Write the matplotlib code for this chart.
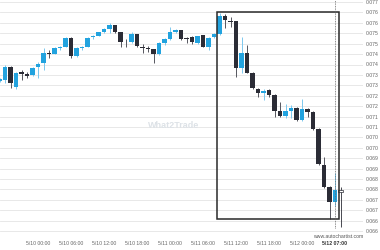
import matplotlib
matplotlib.use('Agg')
import matplotlib.pyplot as plt
import numpy as np

# hourly candles, hour 0 = 5/10 00:00
hours = np.arange(-7, 56)
opens = [0.07321, 0.07326, 0.07388, 0.07292, 0.07366, 0.07354, 0.07350, 0.07388, 0.07407, 0.07455,
         0.07452, 0.07479, 0.07484, 0.07527, 0.07441, 0.07477, 0.07484, 0.07532, 0.07537, 0.07556,
         0.07570, 0.07590, 0.07556, 0.07510, 0.07508, 0.07546, 0.07486, 0.07479, 0.07474, 0.07450,
         0.07503, 0.07522, 0.07556, 0.07566, 0.07527, 0.07532, 0.07503, 0.07542, 0.07484, 0.07532,
         0.07546, 0.07633, 0.07609, 0.07609, 0.07383, 0.07455, 0.07359, 0.07282, 0.07263, 0.07278,
         0.07254, 0.07177, 0.07153, 0.07177, 0.07191, 0.07134, 0.07186, 0.07172, 0.07090, 0.06918,
         0.06812, 0.06740, 0.06798]
highs = [0.07335, 0.07398, 0.07393, 0.07364, 0.07374, 0.07364, 0.07388, 0.07412, 0.07479, 0.07470,
         0.07484, 0.07490, 0.07530, 0.07530, 0.07482, 0.07489, 0.07532, 0.07542, 0.07558, 0.07575,
         0.07599, 0.07592, 0.07558, 0.07522, 0.07556, 0.07548, 0.07498, 0.07489, 0.07476, 0.07506,
         0.07527, 0.07580, 0.07570, 0.07568, 0.07532, 0.07537, 0.07539, 0.07544, 0.07532, 0.07551,
         0.07647, 0.07642, 0.07628, 0.07611, 0.07532, 0.07494, 0.07362, 0.07287, 0.07282, 0.07282,
         0.07258, 0.07220, 0.07210, 0.07206, 0.07194, 0.07234, 0.07191, 0.07177, 0.07093, 0.06956,
         0.06817, 0.06879, 0.06812]
lows = [0.07316, 0.07311, 0.07287, 0.07282, 0.07326, 0.07335, 0.07345, 0.07335, 0.07374, 0.07431,
        0.07450, 0.07470, 0.07482, 0.07431, 0.07438, 0.07470, 0.07482, 0.07522, 0.07535, 0.07551,
        0.07551, 0.07551, 0.07484, 0.07484, 0.07503, 0.07484, 0.07455, 0.07460, 0.07407, 0.07448,
        0.07494, 0.07518, 0.07551, 0.07520, 0.07503, 0.07498, 0.07500, 0.07482, 0.07470, 0.07527,
        0.07542, 0.07575, 0.07580, 0.07340, 0.07359, 0.07357, 0.07282, 0.07244, 0.07230, 0.07244,
        0.07148, 0.07148, 0.07143, 0.07143, 0.07129, 0.07131, 0.07148, 0.07088, 0.06918, 0.06807,
        0.06658, 0.06721, 0.06620]
closes = [0.07330, 0.07388, 0.07311, 0.07359, 0.07354, 0.07346, 0.07383, 0.07402, 0.07455, 0.07452,
          0.07479, 0.07484, 0.07527, 0.07441, 0.07479, 0.07482, 0.07527, 0.07537, 0.07556, 0.07570,
          0.07590, 0.07556, 0.07508, 0.07506, 0.07546, 0.07489, 0.07481, 0.07474, 0.07450, 0.07503,
          0.07522, 0.07556, 0.07566, 0.07522, 0.07522, 0.07508, 0.07537, 0.07484, 0.07527, 0.07546,
          0.07633, 0.07614, 0.07604, 0.07383, 0.07455, 0.07359, 0.07287, 0.07263, 0.07273, 0.07254,
          0.07177, 0.07153, 0.07177, 0.07191, 0.07134, 0.07186, 0.07172, 0.07090, 0.06922, 0.06812,
          0.06740, 0.06798, 0.06790]

# pattern box and current-time marker
box_start, box_end = 32.5, 54.7
box_top, box_bottom = 0.07652, 0.06658
now_hour = 54

xtick_hours = [0, 6, 12, 18, 24, 30, 36, 42, 48]
xtick_labels = ['5/10 00:00', '5/10 06:00', '5/10 12:00', '5/10 18:00', '5/11 00:00',
                '5/11 06:00', '5/11 12:00', '5/11 18:00', '5/12 00:00']
now_label = '5/12 07:00'

ytick_values = [0.0770 - 0.0005 * i for i in range(23)]
ytick_labels = ['0.077', '0.076', '0.076', '0.075', '0.075', '0.074', '0.074', '0.073',
                '0.073', '0.072', '0.072', '0.071', '0.071', '0.070', '0.070', '0.069',
                '0.069', '0.068', '0.068', '0.067', '0.067', '0.066', '0.066']

up_col = '#22a3df'
dn_col = '#2b2c36'
txt_col = '#666666'

plt.rcParams['font.family'] = ['Liberation Sans', 'DejaVu Sans']

fig = plt.figure(figsize=(3.8, 2.5), dpi=100)
ax = fig.add_axes([0, 0.048, 363 / 380, 0.952])

for h, o, hi, lo, c in zip(hours, opens, highs, lows, closes):
    if h == hours[-1]:
        # live candle, drawn hollow
        ax.vlines(h, lo, hi, color=dn_col, linewidth=0.6, zorder=3)
        ax.bar(h, max(abs(c - o), 0.00003), bottom=min(o, c), width=0.75,
               color='white', edgecolor=dn_col, linewidth=0.5, zorder=4)
        continue
    col = up_col if c >= o else dn_col
    wick = '#7cc8ee' if c >= o else '#55565e'
    ax.vlines(h, lo, hi, color=wick, linewidth=0.7, zorder=3)
    ax.bar(h, max(abs(c - o), 0.00002), bottom=min(o, c), width=0.75,
           color=col, linewidth=0, zorder=4)

ax.add_patch(plt.Rectangle((box_start, box_bottom), box_end - box_start, box_top - box_bottom,
                           fill=False, edgecolor='#2a2a2a', linewidth=1.1, zorder=5))
ax.axvline(now_hour, ymin=0.04, ymax=1, color='#666666', linewidth=0.6,
           linestyle=(0, (1, 1)), zorder=6)

ax.set_xlim(-6.91, 59.09)
ax.set_ylim(0.065672, 0.077096)

ax.set_xticks(xtick_hours + [now_hour])
ax.set_xticklabels(xtick_labels + [now_label])
ax.set_yticks(ytick_values)
ax.set_yticklabels(ytick_labels)
ax.yaxis.tick_right()
ax.tick_params(axis='both', length=0, labelsize=3.7, labelcolor=txt_col, pad=2)
ax.get_xticklabels()[-1].set_fontweight('bold')
ax.get_xticklabels()[-1].set_color('#333333')

ax.set_xticks(xtick_hours, minor=True)
ax.tick_params(axis='x', which='minor', length=0)
ax.xaxis.grid(True, which='minor', color='#e4e4e4', linewidth=0.6)
ax.yaxis.grid(True, which='major', color='#e4e4e4', linewidth=0.6)
ax.set_axisbelow(True)
for s in ax.spines.values():
    s.set_visible(False)

ax.text(0.479, 0.472, 'What2Trade', transform=ax.transAxes, ha='center', va='center',
        fontsize=6.5, fontweight='bold', color='#dde2e7', zorder=1)
fig.text(363 / 380, 1 - 236 / 250, 'www.autochartist.com', ha='right', va='center',
         fontsize=3.7, color='#555555')

fig.savefig('out.png', dpi=100)
